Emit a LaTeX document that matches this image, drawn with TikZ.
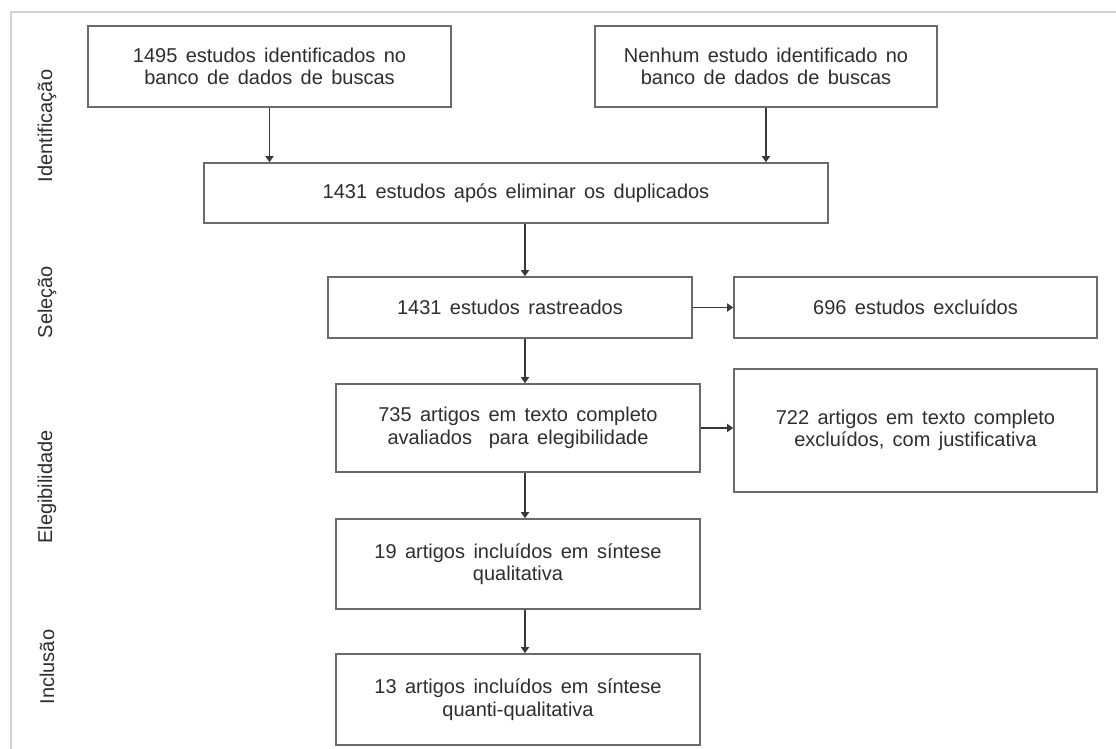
\documentclass[tikz,border=0pt]{standalone}
\usepackage{fontspec}
\setmainfont{Liberation Sans}
\usetikzlibrary{arrows.meta}
\definecolor{boxline}{HTML}{6A6A6A}
\definecolor{arrowc}{HTML}{383838}
\definecolor{txt}{HTML}{2E2E2E}
\definecolor{frame}{HTML}{D2D2D2}
\newcommand\bxfont{\fontsize{20}{22.5}\selectfont\spaceskip 0.42em plus 0.1em\relax}
\tikzset{
  box/.style={draw=boxline, line width=1.6pt, fill=white, inner sep=0pt, align=center,
    text=txt, font=\bxfont},
  conn/.style={draw=arrowc, line width=1.5pt, -{Triangle[width=8pt,length=6pt]}},
  phase/.style={rotate=90, text=txt, font=\fontsize{20}{22}\selectfont, inner sep=0pt}
}
\begin{document}
\begin{tikzpicture}[x=1pt, y=-1pt]
\useasboundingbox (0,0) rectangle (1116,749);
\fill[white] (0,0) rectangle (1116,749);
% outer frame (top and left edges visible)
\draw[frame, line width=2pt] (11,760) -- (11,12) -- (1130,12);

% phase labels
\node[phase] (lid) at (47,126) {Identificação};
\node[phase] (lsel) at (47,302) {Seleção};
\node[phase] (leleg) at (47,487) {Elegibilidade};
\node[phase] (linc) at (47,667) {Inclusão};

% boxes
\node[box, minimum width=363pt, minimum height=81pt] (b1) at (269.5,66.5)
  {1495 estudos identificados no\\ banco de dados de buscas};
\node[box, minimum width=342pt, minimum height=81pt] (b2) at (766,66.5)
  {Nenhum estudo identificado no\\ banco de dados de buscas};
\node[box, minimum width=624pt, minimum height=60pt] (b3) at (516,193)
  {1431 estudos após eliminar os duplicados};
\node[box, minimum width=364pt, minimum height=61pt] (b4) at (510,307.5)
  {1431 estudos rastreados};
\node[box, minimum width=363pt, minimum height=61pt] (b5) at (915.5,307.5)
  {696 estudos excluídos};
\node[box, minimum width=364pt, minimum height=88pt] (b6) at (518,428)
  {735 artigos em texto completo\\ avaliados \ para elegibilidade};
\node[box, minimum width=363pt, minimum height=123pt] (b7) at (915.5,430.5)
  {722 artigos em texto completo\\ excluídos, com justificativa};
\node[box, minimum width=364pt, minimum height=90pt] (b8) at (518,564)
  {19 artigos incluídos em síntese\\ qualitativa};
\node[box, minimum width=364pt, minimum height=91pt] (b9) at (518,699.5)
  {13 artigos incluídos em síntese\\ quanti-qualitativa};

\coordinate (ax) at (525,0);

% connectors
\draw[conn] (b1.south) -- (b1.south |- b3.north);
\draw[conn] (b2.south) -- (b2.south |- b3.north);
\draw[conn] (b3.south -| ax) -- (b4.north -| ax);
\draw[conn] (b4.east) -- (b4.east -| b5.west);
\draw[conn] (b4.south -| ax) -- (b6.north -| ax);
\draw[conn] (b6.east) -- (b6.east -| b7.west);
\draw[conn] (b6.south -| ax) -- (b8.north -| ax);
\draw[conn] (b8.south -| ax) -- (b9.north -| ax);
\end{tikzpicture}
\end{document}
